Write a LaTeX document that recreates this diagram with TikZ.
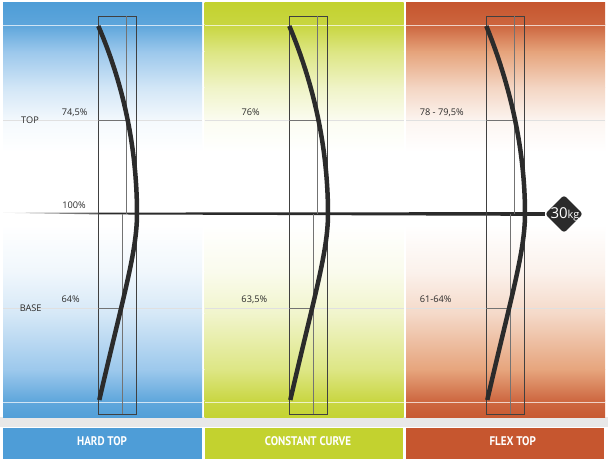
\documentclass[tikz,border=0pt]{standalone}
\usepackage{fontspec}
\setmainfont{Open Sans}
\newfontfamily\barfont{PT Sans}
\usetikzlibrary{shapes.geometric}
\definecolor{cblue}{HTML}{4E9DD7}
\definecolor{mblue}{HTML}{9CC8EC}
\definecolor{cgreen}{HTML}{C3D22F}
\definecolor{mgreen}{HTML}{DDE684}
\definecolor{corange}{HTML}{C6562F}
\definecolor{morange}{HTML}{E6A47C}
\definecolor{bowc}{HTML}{2B2B2B}
\definecolor{txtc}{HTML}{2A2A2A}
\newcommand\mypanel[4]{%
  \shade[top color=#3, bottom color=#3!80!#4] (#1,3) rectangle (#2,25);
  \shade[top color=#3!80!#4, bottom color=#4] (#1,25) rectangle (#2,52);
  \shade[top color=#4, bottom color=#4!45!white] (#1,52) rectangle (#2,88);
  \shade[top color=#4!45!white, bottom color=#4!10!white] (#1,88) rectangle (#2,122);
  \shade[top color=#4!10!white, bottom color=white] (#1,122) rectangle (#2,152);
  \fill[white] (#1,152) rectangle (#2,225);
  \shade[top color=white, bottom color=#4!15!white] (#1,225) rectangle (#2,272);
  \shade[top color=#4!15!white, bottom color=#4!42!white] (#1,272) rectangle (#2,314);
  \shade[top color=#4!42!white, bottom color=#4] (#1,314) rectangle (#2,370);
  \shade[top color=#4, bottom color=#3!75!#4] (#1,370) rectangle (#2,400);
  \shade[top color=#3!75!#4, bottom color=#3!95!#4] (#1,400) rectangle (#2,417);
  \draw[white, opacity=0.7, line width=0.9] (#1,25) -- (#2,25) (#1,402) -- (#2,402);
  \draw[black!12, line width=0.6] (#1,120) -- (#2,120) (#1,308) -- (#2,308);
}
\newcommand\myframe[2]{%
  \draw[framec] (#1,16) rectangle ++(38,398);
  \draw[innerc] (#1+28,16) -- (#1+28,214) (#1+24.4,214) -- (#1+24.4,414);
  \draw[innerc] (#1,120) -- (#1+28,120) (#1,308) -- (#1+24.4,308);
  \draw[bow] (#1,26) .. controls (#1+#2,85.4) and (#1+38.7,149.3) .. (#1+38.7,214)
     .. controls (#1+38.7,252) and (#1+24,300) .. (#1+1,400);
}
\begin{document}
\begin{tikzpicture}[x=1pt,y=-1pt,
  framec/.style={draw=black!75, line width=0.8},
  innerc/.style={draw=black!55, line width=0.7},
  bow/.style={draw=bowc, line width=4.5, line cap=butt},
  lbl/.style={font=\fontsize{9.2}{10}\selectfont, text=txtc, inner sep=0},
  barlbl/.style={font=\barfont\bfseries\fontsize{12.5}{12.5}\selectfont, text=white, inner sep=0},
  bar/.style={inner sep=0, minimum width=198pt, minimum height=31pt}]
\useasboundingbox (0,0) rectangle (608,462);
\fill[white] (0,0) rectangle (608,462);
\fill[black!9] (0,417) rectangle (608,427);
\mypanel{3}{202}{cblue}{mblue}
\mypanel{204.5}{403.5}{cgreen}{mgreen}
\mypanel{406}{605}{corange}{morange}
% center line
\coordinate (cl) at (3,213.5);
\coordinate (cf) at (98,213.5);
\node[diamond, fill=bowc, minimum width=38pt, minimum height=38pt, inner sep=0, rounded corners=3pt] (w) at (564,214) {};
\shade[left color=black!18, right color=black!65] (cl) ++(0,-0.7) -- ([yshift=-0.9]cf) -- ([yshift=0.9]cf) -- ([yshift=0.7]cl) -- cycle;
\fill[bowc] ([yshift=-0.9]cf) -- ([yshift=-1.9]w.west) -- ([yshift=1.9]w.west) -- ([yshift=0.9]cf) -- cycle;
\node[text=white, inner sep=0] (wt) at (565,214.5) {\fontsize{15}{15}\selectfont 30\fontsize{11}{12}\selectfont kg};
% frames and bows
\myframe{98.3}{25.6}
\myframe{289.3}{25}
\myframe{486.3}{24}
% labels
\node[lbl] (top) at (30,120) {TOP};
\node[lbl] (base) at (30.7,308.7) {BASE};
\node[lbl] (t1) at (74.7,112.7) {74,5\%};
\node[lbl] (c1) at (74,205) {100\%};
\node[lbl] (b1) at (70.7,299.3) {64\%};
\node[lbl] (t2) at (250.7,112.7) {76\%};
\node[lbl] (b2) at (254.3,299.3) {63,5\%};
\node[lbl] (t3) at (441.7,112.7) {78 - 79,5\%};
\node[lbl] (b3) at (435.7,299.3) {61-64\%};
% bars
\node[bar, fill=cblue, minimum width=199pt] (hb) at (102.5,443.6) {};
\node[bar, fill=cgreen] (cb) at (303.8,443.6) {};
\node[bar, fill=corange] (fb) at (505,443.6) {};
\node[barlbl] (ht) at (102,441) {\scalebox{0.88}[1]{HARD TOP}};
\node[barlbl] (ct) at (308,441) {\scalebox{0.88}[1]{CONSTANT CURVE}};
\node[barlbl] (ft) at (512.7,441) {\scalebox{0.88}[1]{FLEX TOP}};
\end{tikzpicture}
\end{document}
